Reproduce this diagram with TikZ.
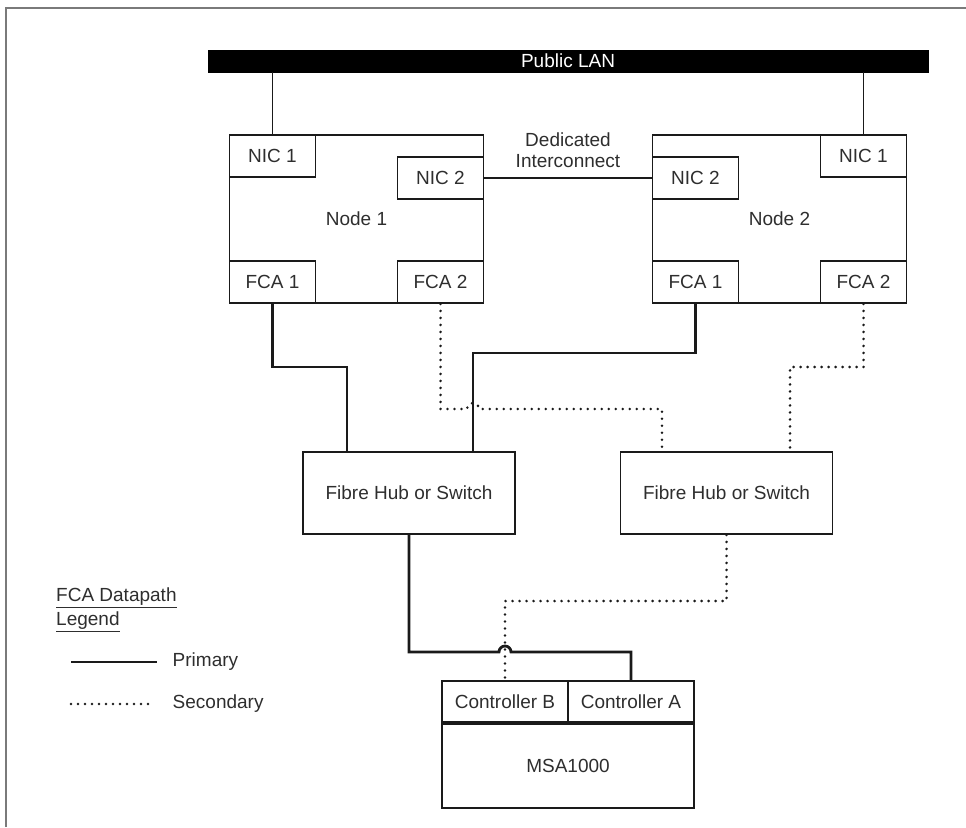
\documentclass[tikz,border=0pt]{standalone}
\usepackage{fontspec}
\setmainfont{Liberation Sans}
\usepackage{tikz}
\usetikzlibrary{calc, positioning}
\definecolor{inkGray}{HTML}{2E2E2E}
\definecolor{frameGray}{HTML}{7A7A7A}
\definecolor{lineBlack}{HTML}{1A1A1A}

\begin{document}
\begin{tikzpicture}[x=1pt, y=-1pt,
        every node/.style={font=\fontsize{19}{21}\selectfont, text=inkGray},
        box/.style={rectangle, draw=lineBlack, line width=1.8pt, inner sep=0pt},
        host/.style={box, minimum width=254pt, minimum height=168pt},
        card/.style={box, minimum width=86pt, minimum height=42pt},
        hub/.style={box, minimum width=212pt, minimum height=82pt},
        ctl/.style={box, minimum width=126pt, minimum height=41pt},
        lan/.style={rectangle, draw=black, fill=black, text=white, minimum width=720pt, minimum height=22pt, inner sep=0pt},
        link/.style={line width=1.6pt, draw=lineBlack},
        primary/.style={line width=2.8pt, draw=lineBlack},
        secondary/.style={line width=2.8pt, draw=lineBlack, line cap=round, dash pattern=on 0pt off 7pt},
        frame/.style={line width=2.5pt, draw=frameGray}]

        \useasboundingbox (0,0) rectangle (966,827);
        \draw[frame] (6,827) -- (6,8) -- (966,8);

        % Public LAN backbone
        \node[lan] (lan) at (568,61) {Public LAN};

        % Cluster node 1
        \node[host] (n1) at (356.5,219) {Node 1};
        \node[card, anchor=north west] (n1nic1) at (n1.north west) {NIC 1};
        \node[card, anchor=north east] (n1nic2) at ([yshift=-22pt]n1.north east) {NIC 2};
        \node[card, anchor=south west] (n1fca1) at (n1.south west) {FCA 1};
        \node[card, anchor=south east] (n1fca2) at (n1.south east) {FCA 2};

        % Cluster node 2
        \node[host] (n2) at (779.5,219) {Node 2};
        \node[card, anchor=north east] (n2nic1) at (n2.north east) {NIC 1};
        \node[card, anchor=north west] (n2nic2) at ([yshift=-22pt]n2.north west) {NIC 2};
        \node[card, anchor=south west] (n2fca1) at (n2.south west) {FCA 1};
        \node[card, anchor=south east] (n2fca2) at (n2.south east) {FCA 2};

        % Fibre hubs
        \node[hub] (hub1) at (409,493) {Fibre Hub or Switch};
        \node[hub] (hub2) at (726.5,493) {Fibre Hub or Switch};

        % Storage array
        \node[box, minimum width=252pt, minimum height=84pt] (msa) at (568,766) {MSA1000};
        \node[ctl, anchor=south west] (ctlb) at (msa.north west) {Controller B};
        \node[ctl, anchor=south east] (ctla) at (msa.north east) {Controller A};

        % Routing points
        \coordinate (p1) at (347,367);
        \coordinate (p2) at (473,353);
        \coordinate (h1) at (467,409);
        \coordinate (h2) at (499,652);
        \coordinate (s1) at (662,409);
        \coordinate (s2) at (790,367);
        \coordinate (s3) at (505,601);

        % LAN drops and interconnect
        \draw[link] (lan.south -| n1nic1.north) -- (n1nic1.north);
        \draw[link] (lan.south -| n2nic1.north) -- (n2nic1.north);
        \draw[link] (n1nic2.east) -- node[above=6pt, align=center] (dedic) {Dedicated\\Interconnect} (n2nic2.west);

        % Primary datapaths
        \draw[primary] (n1fca1.south) |- (p1) -- (p1 |- hub1.north);
        \draw[primary] (n2fca1.south) |- (p2) -- (p2 |- hub1.north);
        \draw[primary] (hub1.south) |- (h2) arc (180:0:6pt) -| (ctla.north);

        % Secondary datapaths
        \draw[secondary] (n1fca2.south) |- (h1) arc (180:0:6pt) -- (s1) -- (s1 |- hub2.north);
        \draw[secondary] (n2fca2.south) |- (s2) -- (s2 |- hub2.north);
        \draw[secondary] (hub2.south) |- (s3) -- (ctlb.north);

        % Legend
        \node[anchor=north west, align=left, inner sep=0pt] (legtitle) at (56,588) {\underline{FCA Datapath}\\[3pt]\underline{Legend}};
        \coordinate (lp0) at (71,662);
        \coordinate (lp1) at (157,662);
        \coordinate (ls0) at (71,704);
        \coordinate (ls1) at (151,704);
        \draw[primary] (lp0) -- (lp1) node[anchor=west, xshift=11pt] (legprim) {Primary};
        \draw[secondary] (ls0) -- (ls1) node[anchor=west, xshift=17pt] (legsec) {Secondary};
    \end{tikzpicture}
\end{document}
